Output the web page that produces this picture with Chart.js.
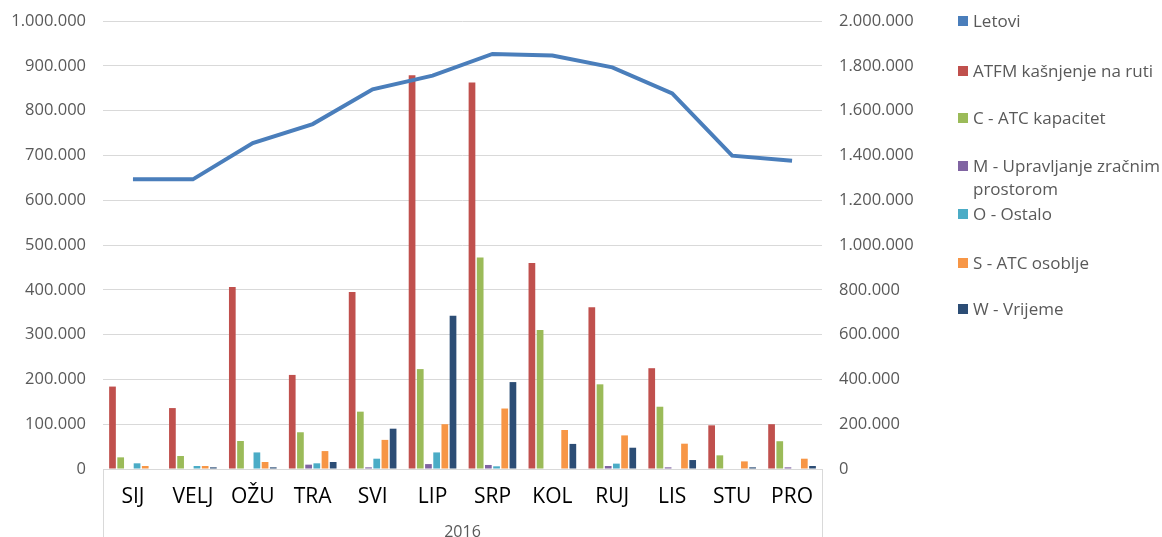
<!DOCTYPE html>
<html>
<head>
<meta charset="utf-8">
<script src="https://cdn.jsdelivr.net/npm/chart.js@4/dist/chart.umd.min.js"></script>
<style>
  html, body { margin: 0; padding: 0; background: #fff; overflow: hidden; }
  #wrap { position: relative; width: 1162px; height: 537px; overflow: hidden; }
  #c { position: absolute; left: 0; top: 0; }
  .lg { position: absolute; left: 958px; font-family: "Open Sans", sans-serif; font-size: 17px; color: #595959; line-height: 23px; white-space: nowrap; }
  .lg i { position: absolute; left: 0; top: 7px; width: 10px; height: 10px; }
  .lg span { position: absolute; left: 15px; top: 0; }
</style>
</head>
<body>
<div id="wrap">
  <canvas id="c" width="1162" height="545"></canvas>
  <div id="legend"></div>
</div>
<script>
const categories = ["SIJ", "VELJ", "OŽU", "TRA", "SVI", "LIP", "SRP", "KOL", "RUJ", "LIS", "STU", "PRO"];
const axisGroupLabel = "2016";

const letovi   = [1293000, 1293000, 1455000, 1540000, 1695000, 1756000, 1853000, 1846000, 1793000, 1677000, 1399000, 1376000];
const atfm     = [184000, 136000, 406000, 210000, 395000, 879000, 863000, 460000, 361000, 225000, 97500, 100000];
const cKap     = [26000, 29000, 62500, 82000, 128000, 223000, 472000, 310000, 189000, 139000, 30500, 62000];
const mUpr     = [0, 0, 0, 9700, 3700, 11000, 9000, 0, 6700, 3700, 0, 3700];
const oOst     = [12700, 6700, 37000, 12700, 23000, 37000, 6000, 0, 12000, 0, 0, 0];
const sOsob    = [6700, 6700, 15600, 40000, 65000, 100000, 135000, 87000, 75000, 56500, 17000, 23000];
const wVrij    = [0, 3700, 3700, 15600, 90000, 342000, 194000, 56000, 47500, 20000, 3700, 6700];

const leftTicksMax = 1000000, leftStep = 100000;
const rightTicksMax = 2000000, rightStep = 200000;

const seriesNames = ["Letovi", "ATFM kašnjenje na ruti", "C - ATC kapacitet", "M - Upravljanje zračnim prostorom", "O - Ostalo", "S - ATC osoblje", "W - Vrijeme"];
const colors = ["#4A7EBB", "#C0504D", "#9BBB59", "#8064A2", "#4BACC6", "#F79646", "#2C4D75"];

function fmt(v) { return String(Math.round(v)).replace(/\B(?=(\d{3})+(?!\d))/g, "."); }

const barSeries = [atfm, cKap, mUpr, oOst, sOsob, wVrij];
const datasets = [{
  type: "line",
  label: seriesNames[0],
  data: letovi,
  yAxisID: "y1",
  borderColor: colors[0],
  backgroundColor: colors[0],
  borderWidth: 4,
  pointRadius: 0,
  tension: 0,
  order: 0
}];
barSeries.forEach((arr, i) => {
  datasets.push({
    type: "bar",
    label: seriesNames[i + 1],
    data: arr,
    yAxisID: "y",
    backgroundColor: colors[i + 1],
    borderWidth: 0,
    categoryPercentage: 0.82,
    barPercentage: 0.82,
    order: 1
  });
});

const boxPlugin = {
  id: "box",
  afterDraw(chart) {
    const { ctx, chartArea } = chart;
    ctx.save();
    ctx.strokeStyle = "#D9D9D9";
    ctx.lineWidth = 1;
    ctx.beginPath();
    const l = Math.round(chartArea.left) + 0.5, r = Math.round(chartArea.right) + 0.5;
    ctx.moveTo(l, chartArea.bottom); ctx.lineTo(l, chart.height);
    ctx.moveTo(r, chartArea.bottom); ctx.lineTo(r, chart.height);
    ctx.stroke();
    ctx.restore();
  }
};

new Chart(document.getElementById("c"), {
  data: { labels: categories, datasets },
  options: {
    responsive: false,
    animation: false,
    layout: { padding: { left: 0, right: 240, top: 21, bottom: 0 } },
    plugins: { legend: { display: false }, tooltip: { enabled: false } },
    scales: {
      x: {
        offset: true,
        grid: { display: false, drawTicks: false },
        border: { display: true, color: "#D9D9D9" },
        ticks: { color: "#000000", font: { family: "Open Sans", size: 21 }, padding: 15, maxRotation: 0, autoSkip: false },
        title: { display: true, text: axisGroupLabel, color: "#595959", font: { family: "Open Sans", size: 16 }, padding: { top: 0, bottom: 3 } },
        afterFit(s) { s.height = 76; }
      },
      y: {
        position: "left",
        min: 0, max: leftTicksMax,
        ticks: { stepSize: leftStep, color: "#595959", font: { family: "Open Sans", size: 16.5 }, padding: 17, callback: v => fmt(v) },
        grid: { color: "#D9D9D9", drawTicks: false },
        border: { display: false },
        afterFit(s) { s.width = 103; s.paddingTop = 0; s.paddingBottom = 0; }
      },
      y1: {
        position: "right",
        min: 0, max: rightTicksMax,
        ticks: { stepSize: rightStep, color: "#595959", font: { family: "Open Sans", size: 16.5 }, padding: 17, callback: v => fmt(v) },
        grid: { drawOnChartArea: false, drawTicks: false },
        border: { display: false },
        afterFit(s) { s.width = 100; s.paddingTop = 0; s.paddingBottom = 0; }
      }
    }
  },
  plugins: [boxPlugin]
});

// Legend (HTML)
const legendTops = [9, 59, 106, 154, 202, 251, 297];
const lg = document.getElementById("legend");
seriesNames.forEach((name, i) => {
  const d = document.createElement("div");
  d.className = "lg";
  d.style.top = legendTops[i] + "px";
  const parts = name === "M - Upravljanje zračnim prostorom" ? "M - Upravljanje zračnim<br>prostorom" : name;
  d.innerHTML = '<i style="background:' + colors[i] + '"></i><span>' + parts + '</span>';
  lg.appendChild(d);
});
</script>
</body>
</html>
